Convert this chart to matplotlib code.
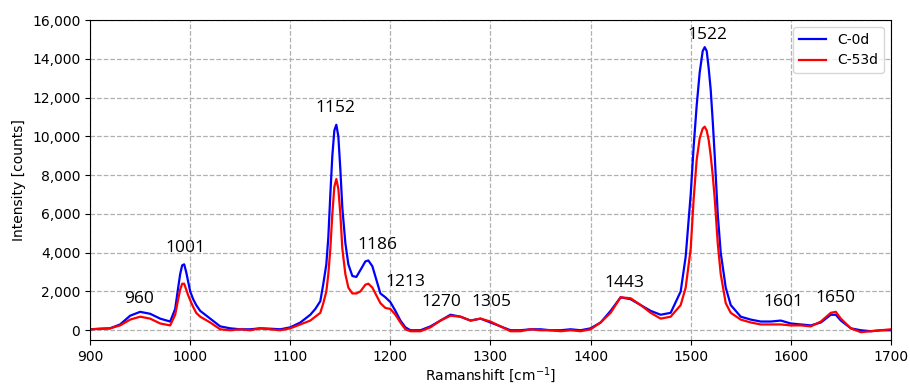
import matplotlib
matplotlib.use("Agg")
import matplotlib.pyplot as plt
from matplotlib.ticker import FuncFormatter

# Raman shift grid [cm-1]
shift = [900, 910, 920, 930, 940, 950, 960, 970, 980, 985, 988, 990, 992, 994, 996, 998,
         1000, 1003, 1006, 1010, 1020, 1030, 1040, 1050, 1060, 1070, 1080, 1090, 1100,
         1110, 1120, 1125, 1130, 1133, 1136, 1138, 1140, 1142, 1144, 1146, 1148, 1150,
         1152, 1155, 1158, 1162, 1166, 1170, 1175, 1178, 1182, 1186, 1190, 1195, 1200,
         1205, 1210, 1215, 1220, 1230, 1240, 1250, 1260, 1270, 1280, 1290, 1300, 1310,
         1320, 1330, 1340, 1350, 1360, 1370, 1380, 1390, 1400, 1410, 1420, 1430, 1440,
         1450, 1460, 1470, 1480, 1490, 1495, 1500, 1503, 1506, 1509, 1512, 1514, 1516,
         1518, 1520, 1522, 1524, 1527, 1530, 1535, 1540, 1550, 1560, 1570, 1580, 1590,
         1600, 1610, 1620, 1630, 1640, 1645, 1650, 1660, 1670, 1680, 1690, 1700]

c0d = [50, 80, 100, 300, 750, 950, 850, 600, 450, 1100, 2200, 2900, 3350, 3400, 3000, 2500,
       2000, 1600, 1300, 1000, 600, 200, 100, 50, 50, 100, 80, 50, 150,
       400, 800, 1100, 1500, 2400, 3400, 4800, 7000, 9000, 10300, 10600, 10000, 8300,
       6300, 4500, 3400, 2800, 2750, 3100, 3550, 3600, 3300, 2600, 1900, 1700, 1450,
       1000, 500, 150, 0, 0, 200, 500, 800, 700, 500, 600, 400, 200,
       0, 0, 50, 50, 0, 0, 50, 0, 100, 400, 1000, 1700, 1600,
       1300, 1000, 800, 900, 2000, 3800, 7000, 9500, 11600, 13300, 14400, 14600, 14400,
       13500, 12400, 10800, 9000, 6000, 4000, 2200, 1300, 700, 550, 450, 450, 500,
       350, 300, 250, 400, 800, 800, 500, 100, 0, -50, 0, 0]

c53d = [50, 70, 100, 250, 550, 700, 600, 350, 250, 800, 1600, 2100, 2400, 2400, 2100, 1800,
        1550, 1200, 900, 700, 400, 50, 0, 50, 0, 100, 50, 0, 100,
        300, 500, 700, 900, 1400, 2000, 2900, 4200, 6000, 7400, 7800, 7300, 6000,
        4200, 2900, 2200, 1900, 1900, 2000, 2350, 2400, 2200, 1800, 1400, 1150, 1100,
        800, 400, 50, -50, -50, 150, 500, 750, 700, 500, 600, 450, 200,
        -50, -50, 50, 0, 0, -50, 0, -50, 50, 400, 900, 1700, 1650,
        1300, 900, 600, 700, 1300, 2200, 4200, 6800, 8800, 9900, 10400, 10500, 10300,
        9800, 9000, 8000, 6800, 4500, 2900, 1400, 900, 550, 400, 300, 300, 300,
        250, 250, 200, 450, 900, 950, 600, 100, -100, -50, 0, 50]

# peak labels and where they sit
peak_labels = ["960", "1001", "1152", "1186", "1213", "1270", "1305",
               "1443", "1522", "1601", "1650"]
label_x = [949, 995, 1145, 1187, 1215, 1251, 1301, 1434, 1517, 1593, 1645]
label_y = [1600, 4230, 11460, 4390, 2480, 1450, 1450, 2430, 15230, 1450, 1650]

fig = plt.figure(figsize=(9.1, 3.85), dpi=100)
ax = fig.add_axes([0.099, 0.117, 0.88, 0.831])

ax.plot(shift, c0d, color="blue", lw=1.6, label="C-0d")
ax.plot(shift, c53d, color="red", lw=1.6, label="C-53d")

for txt, x, y in zip(peak_labels, label_x, label_y):
    ax.text(x, y, txt, ha="center", va="center", fontsize=12.5, family="Open Sans")

ax.set_xlim(900, 1700)
ax.set_ylim(-500, 16000)
ax.set_yticks(range(0, 16001, 2000))
ax.yaxis.set_major_formatter(FuncFormatter(lambda v, p: f"{int(v):,}"))
ax.grid(True, linestyle="--", color="#b0b0b0", lw=0.9)
ax.set_xlabel("Ramanshift [cm$^{-1}$]", labelpad=1)
ax.set_ylabel("Intensity [counts]")
ax.legend(loc="upper right")

plt.savefig("out.png", dpi=100)
plt.close()
